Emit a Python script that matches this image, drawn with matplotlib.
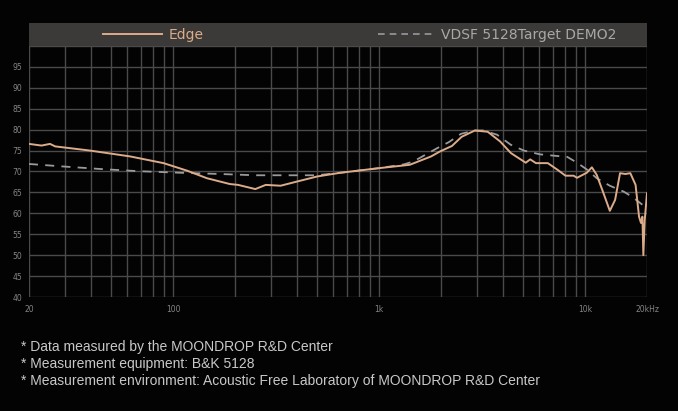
import numpy as np
import matplotlib
matplotlib.use("Agg")
import matplotlib.pyplot as plt
from matplotlib.patches import Rectangle
from matplotlib.lines import Line2D

# frequency response data
edge_freq = [20, 23, 25.3, 26.8, 39.6, 62, 90, 117, 146, 189, 207, 251, 282, 333,
             400, 500, 650, 1000, 1410, 1790, 1979, 2260, 2520, 2920, 3370, 3870,
             4370, 5156, 5420, 5780, 6600, 7360, 8040, 8800, 9150, 10200, 10800,
             11400, 12300, 13200, 14000, 14800, 15700, 16600, 17600, 18300, 18700,
             19000, 19200, 19500, 20000]
edge_db = [76.6, 76.2, 76.6, 76.0, 75.0, 73.6, 72.0, 70.2, 68.4, 67.0, 66.8, 65.8,
           66.8, 66.6, 67.6, 68.8, 69.7, 70.8, 71.6, 73.6, 74.8, 76.1, 78.3, 79.8,
           79.5, 77.2, 74.4, 72.1, 72.9, 72.0, 72.0, 70.4, 69.0, 69.0, 68.5, 69.7,
           71.0, 69.2, 64.8, 60.6, 63.2, 69.6, 69.4, 69.6, 66.8, 59.2, 57.7, 59.2,
           50.0, 58.4, 64.8]

target_freq = [20, 29.3, 44.3, 66.6, 108, 170, 250, 500, 650, 1000, 1320, 1470,
               1920, 2180, 2500, 2900, 3200, 3740, 4360, 5050, 6050, 7360, 8200,
               9150, 10200, 11400, 13200, 15400, 17000, 20000]
target_db = [71.8, 71.2, 70.6, 70.1, 69.7, 69.4, 69.1, 69.1, 69.7, 70.8, 71.7,
             72.4, 75.6, 77.0, 79.0, 79.8, 79.8, 78.8, 76.4, 75.0, 74.1, 73.7,
             73.5, 72.1, 70.5, 68.4, 66.6, 65.2, 63.9, 61.2]

y_ticks = [40, 45, 50, 55, 60, 65, 70, 75, 80, 85, 90, 95]
x_ticks = [20, 100, 1000, 10000, 20000]
x_tick_labels = ['20', '100', '1k', '10k', '20kHz']
notes = ['* Data measured by the MOONDROP R&D Center',
         '* Measurement equipment: B&K 5128',
         '* Measurement environment: Acoustic Free Laboratory of MOONDROP R&D Center']

EDGE_COLOR = '#dcab8a'
GRID_COLOR = '#4a4a4a'
BG = '#030303'

fig = plt.figure(figsize=(6.78, 4.11), dpi=100, facecolor=BG)
W, H = 678, 411
x0, x1, y_top, y_bot = 29, 647, 46, 297
ax = fig.add_axes([x0 / W, 1 - y_bot / H, (x1 - x0) / W, (y_bot - y_top) / H])
ax.set_facecolor(BG)
ax.set_xscale('log')
ax.set_xlim(20, 20000)
ax.set_ylim(40, 100)

# grid lines
grid_x = [m * 10 ** e for e in range(1, 5) for m in range(1, 10)]
grid_x = [g for g in grid_x if 20 <= g <= 20000]
for g in grid_x:
    ax.axvline(g, color=GRID_COLOR, lw=1.0, zorder=0)
for yv in y_ticks + [100]:
    ax.axhline(yv, color=GRID_COLOR, lw=1.0, zorder=0)

ax.plot(target_freq, target_db, color='#9a9a9a', lw=1.3, dashes=(5, 4), zorder=2)
ax.plot(edge_freq, edge_db, color=EDGE_COLOR, lw=1.4, zorder=3)

for s in ax.spines.values():
    s.set_visible(False)
ax.set_xticks(x_ticks)
ax.set_xticklabels(x_tick_labels)
ax.xaxis.set_minor_locator(matplotlib.ticker.NullLocator())
ax.set_yticks(y_ticks)
ax.tick_params(length=0, labelsize=5.5, colors='#858585', pad=6)
ax.tick_params(axis='y', pad=5)

# legend band
bw = x1 - x0
leg = fig.add_axes([x0 / W, 1 - 46 / H, bw / W, 23 / H])
leg.set_xlim(0, bw)
leg.set_ylim(0, 23)
leg.axis('off')
leg.add_patch(Rectangle((0, 0), bw, 23, color='#3b3a38'))
leg.add_line(Line2D([103 - x0, 162 - x0], [11.5, 11.5], color=EDGE_COLOR, lw=1.4))
leg.text(169 - x0, 11, 'Edge', color=EDGE_COLOR, fontsize=10, va='center',
         family='DejaVu Sans')
leg.add_line(Line2D([378 - x0, 434 - x0], [11.5, 11.5], color='#9a9a9a', lw=1.2,
                    dashes=(4, 3)))
leg.text(441 - x0, 11, 'VDSF 5128Target DEMO2', color='#a8a8a8', fontsize=10,
         va='center', family='DejaVu Sans')

for i, n in enumerate(notes):
    fig.text(21 / W, 1 - (347 + 17 * i) / H, n, color='#c8c8c8', fontsize=10,
             va='center', family='Liberation Sans')

fig.savefig('out.png', dpi=100, facecolor=BG)
